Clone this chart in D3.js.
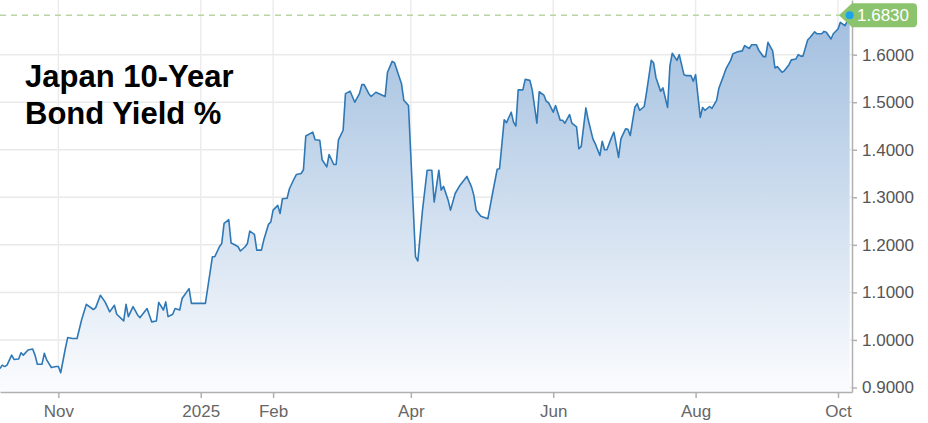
<!DOCTYPE html>
<html><head><meta charset="utf-8">
<script src="https://cdn.jsdelivr.net/npm/d3@7"></script>
<style>html,body{margin:0;padding:0;background:#fff;} svg{display:block;font-family:"Liberation Sans",Arial,sans-serif;}</style>
</head><body><svg id="chart" width="928" height="423"></svg>
<script>
const titleLines = ["Japan 10-Year", "Bond Yield %"];
const dates = [
"2024-10-07","2024-10-08","2024-10-09","2024-10-10","2024-10-12","2024-10-13","2024-10-15","2024-10-16","2024-10-17","2024-10-19",
"2024-10-21","2024-10-22","2024-10-23","2024-10-25","2024-10-26","2024-10-27","2024-10-29","2024-10-31","2024-11-01","2024-11-02",
"2024-11-04","2024-11-05","2024-11-07","2024-11-09","2024-11-11","2024-11-13","2024-11-16","2024-11-17","2024-11-19","2024-11-21",
"2024-11-23","2024-11-25","2024-11-26","2024-11-29","2024-11-30","2024-12-01","2024-12-03","2024-12-05","2024-12-06","2024-12-09",
"2024-12-10","2024-12-11","2024-12-13","2024-12-14","2024-12-16","2024-12-17","2024-12-18","2024-12-20","2024-12-21","2024-12-23",
"2024-12-24","2024-12-27","2024-12-28","2025-01-03","2025-01-06","2025-01-07","2025-01-09","2025-01-10","2025-01-11","2025-01-13",
"2025-01-14","2025-01-16","2025-01-17","2025-01-18","2025-01-20","2025-01-21","2025-01-22","2025-01-24","2025-01-25","2025-01-27",
"2025-01-28","2025-01-30","2025-01-31","2025-02-01","2025-02-03","2025-02-04","2025-02-05","2025-02-07","2025-02-08","2025-02-10",
"2025-02-11","2025-02-13","2025-02-14","2025-02-15","2025-02-18","2025-02-19","2025-02-21","2025-02-22","2025-02-24","2025-02-25",
"2025-02-27","2025-02-28","2025-03-01","2025-03-03","2025-03-04","2025-03-06","2025-03-08","2025-03-10","2025-03-11","2025-03-12",
"2025-03-14","2025-03-15","2025-03-17","2025-03-21","2025-03-22","2025-03-24","2025-03-25","2025-03-28","2025-03-29","2025-03-31",
"2025-04-03","2025-04-04","2025-04-06","2025-04-08","2025-04-10","2025-04-11","2025-04-13","2025-04-14","2025-04-15","2025-04-17",
"2025-04-18","2025-04-20","2025-04-22","2025-04-25","2025-04-27","2025-04-28","2025-04-29","2025-05-01","2025-05-04","2025-05-06",
"2025-05-08","2025-05-09","2025-05-11","2025-05-12","2025-05-14","2025-05-15","2025-05-16","2025-05-17","2025-05-19","2025-05-20",
"2025-05-22","2025-05-23","2025-05-25","2025-05-26","2025-05-28","2025-05-29","2025-05-30","2025-06-01","2025-06-02","2025-06-04",
"2025-06-05","2025-06-06","2025-06-08","2025-06-09","2025-06-11","2025-06-12","2025-06-13","2025-06-15","2025-06-16","2025-06-18",
"2025-06-19","2025-06-21","2025-06-22","2025-06-23","2025-06-24","2025-06-26","2025-06-27","2025-06-29","2025-06-30","2025-07-02",
"2025-07-03","2025-07-04","2025-07-06","2025-07-07","2025-07-08","2025-07-10","2025-07-11","2025-07-13","2025-07-14","2025-07-15",
"2025-07-17","2025-07-18","2025-07-20","2025-07-21","2025-07-22","2025-07-24","2025-07-25","2025-07-27","2025-07-28","2025-07-30",
"2025-07-31","2025-08-01","2025-08-03","2025-08-04","2025-08-05","2025-08-07","2025-08-08","2025-08-10","2025-08-11","2025-08-13",
"2025-08-14","2025-08-16","2025-08-17","2025-08-19","2025-08-21","2025-08-22","2025-08-24","2025-08-25","2025-08-27","2025-08-28",
"2025-08-30","2025-08-31","2025-09-01","2025-09-03","2025-09-04","2025-09-05","2025-09-07","2025-09-08","2025-09-10","2025-09-11",
"2025-09-13","2025-09-14","2025-09-15","2025-09-16","2025-09-18","2025-09-19","2025-09-21","2025-09-22","2025-09-24","2025-09-25",
"2025-09-26","2025-09-28","2025-09-29","2025-10-01","2025-10-02","2025-10-04","2025-10-05","2025-10-06"
];
const yields = [
0.940,0.947,0.944,0.947,0.968,0.959,0.960,0.973,0.968,0.979,
0.981,0.968,0.949,0.949,0.972,0.958,0.942,0.944,0.944,0.931,
0.982,1.005,1.003,1.003,1.043,1.075,1.064,1.068,1.094,1.080,
1.059,1.073,1.054,1.040,1.075,1.049,1.070,1.052,1.047,1.066,
1.052,1.038,1.040,1.079,1.063,1.080,1.049,1.054,1.066,1.063,
1.087,1.108,1.077,1.077,1.175,1.175,1.196,1.203,1.245,1.253,
1.204,1.199,1.196,1.187,1.196,1.203,1.229,1.222,1.189,1.189,
1.210,1.243,1.248,1.273,1.283,1.266,1.297,1.298,1.318,1.339,
1.348,1.350,1.358,1.429,1.437,1.421,1.420,1.379,1.364,1.390,
1.369,1.369,1.421,1.441,1.518,1.523,1.500,1.518,1.537,1.537,
1.518,1.512,1.521,1.512,1.563,1.586,1.583,1.539,1.504,1.493,
1.175,1.166,1.273,1.357,1.357,1.290,1.357,1.315,1.323,1.294,
1.273,1.308,1.325,1.344,1.322,1.304,1.273,1.260,1.255,1.308,
1.359,1.360,1.463,1.457,1.479,1.458,1.450,1.526,1.526,1.548,
1.546,1.526,1.456,1.522,1.515,1.502,1.499,1.479,1.493,1.462,
1.462,1.456,1.474,1.456,1.448,1.402,1.407,1.488,1.463,1.423,
1.413,1.388,1.418,1.400,1.400,1.426,1.437,1.384,1.423,1.444,
1.443,1.430,1.490,1.497,1.483,1.491,1.521,1.588,1.583,1.552,
1.523,1.530,1.489,1.577,1.603,1.588,1.600,1.558,1.556,1.556,
1.544,1.558,1.468,1.489,1.483,1.491,1.487,1.504,1.530,1.556,
1.570,1.588,1.602,1.606,1.608,1.619,1.613,1.621,1.621,1.610,
1.596,1.596,1.626,1.608,1.572,1.575,1.563,1.566,1.579,1.589,
1.591,1.600,1.597,1.597,1.631,1.636,1.648,1.644,1.644,1.649,
1.647,1.633,1.644,1.654,1.668,1.661,1.671,1.683
];
const yTicks = [0.9, 1.0, 1.1, 1.2, 1.3, 1.4, 1.5, 1.6];
const xTickDates = ["2024-11-01","2025-01-01","2025-02-01","2025-04-01","2025-06-01","2025-08-01","2025-10-01"];
const xTickLabels = ["Nov","2025","Feb","Apr","Jun","Aug","Oct"];
const xDomain = ["2024-10-07","2025-10-07"];
const yDomain = [0.8905, 1.715];

const parse = d3.utcParse("%Y-%m-%d");
const data = dates.map((d, i) => ({date: parse(d), value: yields[i]}));
const svg = d3.select("#chart");
const plotW = 852, plotH = 392;

const x = d3.scaleUtc().domain(xDomain.map(parse)).range([0, plotW]);
const y = d3.scaleLinear().domain(yDomain).range([plotH, 0]);

// gradient
const defs = svg.append("defs");
const grad = defs.append("linearGradient").attr("id", "areaGrad")
  .attr("gradientUnits", "userSpaceOnUse").attr("x1", 0).attr("x2", 0)
  .attr("y1", y(d3.max(yields))).attr("y2", plotH);
grad.append("stop").attr("offset", "0%").attr("stop-color", "#a2bfdf");
grad.append("stop").attr("offset", "100%").attr("stop-color", "#fbfcfe");

// grid
svg.append("g").attr("class", "hgrid")
  .selectAll("line").data(yTicks).join("line")
  .attr("x1", 0).attr("x2", plotW).attr("y1", d => y(d)).attr("y2", d => y(d))
  .attr("stroke", "#e9e9e9").attr("stroke-width", 1.5);
svg.append("g").attr("class", "vgrid")
  .selectAll("line").data(xTickDates.map(parse)).join("line")
  .attr("x1", d => x(d)).attr("x2", d => x(d)).attr("y1", 0).attr("y2", plotH)
  .attr("stroke", "#ececec").attr("stroke-width", 1.5);

// area & line
svg.append("path").datum(data)
  .attr("fill", "url(#areaGrad)")
  .attr("d", d3.area().x(d => x(d.date)).y0(plotH).y1(d => y(d.value)));
svg.append("path").datum(data)
  .attr("fill", "none").attr("stroke", "#2f78b6").attr("stroke-width", 1.6)
  .attr("stroke-linejoin", "round")
  .attr("d", d3.line().x(d => x(d.date)).y(d => y(d.value)));

// x axis
const xAxis = svg.append("g").attr("transform", `translate(0,${plotH})`)
  .call(d3.axisBottom(x).tickValues(xTickDates.map(parse))
    .tickFormat((d, i) => xTickLabels[i]).tickSize(6).tickSizeOuter(0));
xAxis.select(".domain").attr("stroke", "#b0b0b0").attr("stroke-width", 1.5);
xAxis.selectAll(".tick line").attr("stroke", "#b0b0b0").attr("stroke-width", 1.5);
xAxis.selectAll(".tick text").attr("y", 25).attr("dy", 0)
  .attr("font-size", 17).attr("fill", "#666").attr("font-family", "Liberation Sans, Arial, sans-serif");

// y axis
const yAxis = svg.append("g").attr("transform", `translate(${plotW},0)`)
  .call(d3.axisRight(y).tickValues(yTicks).tickFormat(d3.format(".4f"))
    .tickSize(5).tickPadding(5).tickSizeOuter(0));
yAxis.select(".domain").attr("stroke", "#b0b0b0").attr("stroke-width", 1.5);
yAxis.selectAll(".tick line").attr("stroke", "#b0b0b0").attr("stroke-width", 1.5);
yAxis.selectAll(".tick text").attr("font-size", 17).attr("fill", "#555")
  .attr("font-family", "Liberation Sans, Arial, sans-serif");

// last value marker
const last = data[data.length - 1];
const ly = y(last.value), lx = x(last.date);
svg.append("line").attr("x1", 0).attr("x2", lx - 10).attr("y1", ly).attr("y2", ly)
  .attr("stroke", "#b9d5a6").attr("stroke-width", 1.5).attr("stroke-dasharray", "6,5");
const bx0 = plotW - 13, bx1 = plotW + 65, bh = 12, r = 4;
svg.append("path")
  .attr("d", `M${bx0},${ly} L${plotW},${ly - bh} L${bx1 - r},${ly - bh} Q${bx1},${ly - bh} ${bx1},${ly - bh + r} L${bx1},${ly + bh - r} Q${bx1},${ly + bh} ${bx1 - r},${ly + bh} L${plotW},${ly + bh} Z`)
  .attr("fill", "#8cc46e");
svg.append("text").attr("x", plotW + 5).attr("y", ly).attr("dy", "0.35em")
  .attr("font-size", 17).attr("fill", "#fff").text(d3.format(".4f")(last.value));
svg.append("circle").attr("cx", lx).attr("cy", ly).attr("r", 4).attr("fill", "#1fa3e8");

// title
svg.append("g").selectAll("text").data(titleLines).join("text")
  .attr("x", 25).attr("y", (d, i) => 87 + i * 37)
  .attr("font-size", 31).attr("font-weight", "bold").attr("fill", "#000")
  .text(d => d);
</script></body></html>
